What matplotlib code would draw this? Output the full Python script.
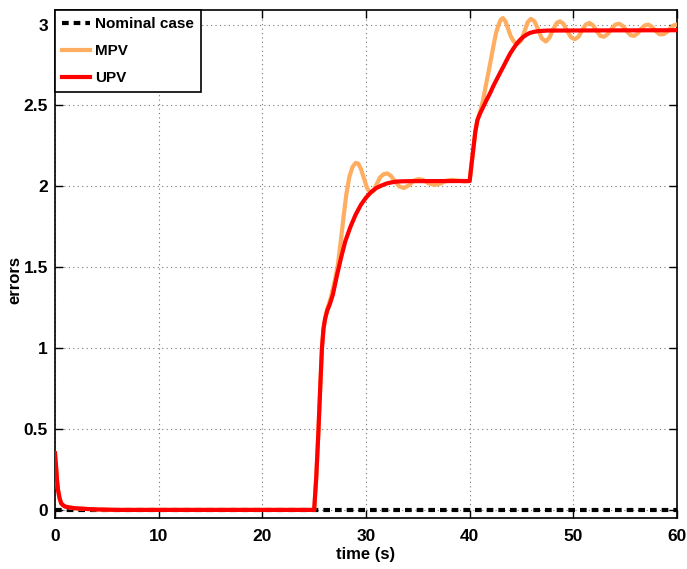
import matplotlib
matplotlib.use("Agg")
import matplotlib.pyplot as plt

plt.rcParams['font.family'] = ['Liberation Sans', 'DejaVu Sans']
plt.rcParams['font.weight'] = 'bold'

# ---- data ----
nominal_t = [0, 60]
nominal_y = [0, 0]

upv_t = [0, 0.1, 0.2, 0.3, 0.45, 0.6, 0.8, 1.0, 1.5, 2, 3, 4, 6, 25.0,
         25.2, 25.4, 25.6, 25.75, 25.9, 26.05, 26.25, 26.5, 26.8, 27.2, 27.6,
         28.0, 28.5, 29.0, 29.5, 30.0, 30.5, 31.0, 31.5, 32.0, 32.5, 33.0,
         34.0, 40.0, 40.15, 40.35, 40.55, 40.75, 41.0, 41.3, 41.64, 42.0,
         42.28, 42.6, 42.92, 43.25, 43.57, 43.9, 44.2, 44.5, 44.85, 45.2,
         45.5, 45.8, 46.2, 46.7, 47.5, 60.0]
upv_y = [0.35, 0.27, 0.18, 0.12, 0.07, 0.04, 0.028, 0.02, 0.014, 0.01, 0.006,
         0.003, 0.0, 0.0, 0.2, 0.47, 0.78, 1.0, 1.12, 1.18, 1.23, 1.27, 1.33,
         1.45, 1.56, 1.66, 1.75, 1.825, 1.885, 1.93, 1.965, 1.99, 2.005, 2.018,
         2.025, 2.03, 2.032, 2.033, 2.12, 2.23, 2.34, 2.41, 2.45, 2.49, 2.535,
         2.58, 2.62, 2.66, 2.70, 2.74, 2.78, 2.82, 2.85, 2.878, 2.905, 2.925,
         2.938, 2.948, 2.955, 2.96, 2.963, 2.965]

mpv_t = [0, 0.1, 0.2, 0.3, 0.45, 0.6, 0.8, 1.0, 1.5, 2, 3, 4, 6, 25.0,
         25.2, 25.4, 25.6, 25.75, 25.9, 26.05, 26.25, 26.6, 27.0, 27.3, 27.6,
         27.85, 28.1, 28.4, 28.7, 29.0, 29.25, 29.5, 29.8, 30.1, 30.4, 30.7,
         31.0, 31.35, 31.7, 32.05, 32.4, 32.8, 33.2, 33.65, 34.1, 34.6, 35.05,
         35.5, 36.0, 36.6, 37.2, 37.8, 38.3, 38.9, 39.5, 40.0, 40.15, 40.35,
         40.55, 40.75, 41.0, 41.3, 41.55, 41.8, 42.05, 42.3, 42.55, 42.8, 43.0,
         43.2, 43.45, 43.7, 43.95, 44.25, 44.6, 44.95, 45.3, 45.6, 45.9, 46.25,
         46.6, 46.95, 47.35, 47.7, 48.05, 48.4, 48.7, 49.05, 49.4, 49.8, 50.15,
         50.5, 50.85, 51.2, 51.55, 51.9, 52.25, 52.6, 52.95, 53.3, 53.7, 54.05,
         54.43, 54.8, 55.15, 55.5, 55.85, 56.2, 56.55, 56.9, 57.23, 57.6, 57.95,
         58.3, 58.68, 59.05, 59.4, 59.7, 60.0]
mpv_y = [0.35, 0.27, 0.18, 0.12, 0.07, 0.04, 0.028, 0.02, 0.014, 0.01, 0.006,
         0.003, 0.0, 0.0, 0.2, 0.47, 0.78, 1.0, 1.12, 1.18, 1.24, 1.31, 1.42,
         1.52, 1.68, 1.82, 1.95, 2.06, 2.12, 2.145, 2.14, 2.11, 2.05, 1.99,
         1.96, 1.97, 2.01, 2.055, 2.075, 2.08, 2.065, 2.03, 2.0, 1.99, 2.005,
         2.035, 2.045, 2.04, 2.02, 2.008, 2.018, 2.036, 2.04, 2.035, 2.03,
         2.033, 2.12, 2.23, 2.34, 2.41, 2.46, 2.535, 2.62, 2.70, 2.785, 2.87,
         2.95, 3.0, 3.03, 3.04, 3.02, 2.975, 2.93, 2.895, 2.88, 2.9, 2.96,
         3.015, 3.035, 3.02, 2.97, 2.915, 2.895, 2.92, 2.97, 3.01, 3.02, 3.005,
         2.96, 2.92, 2.91, 2.925, 2.965, 3.0, 3.01, 2.995, 2.96, 2.93, 2.925,
         2.94, 2.975, 3.0, 3.005, 2.99, 2.96, 2.935, 2.93, 2.945, 2.975, 2.995,
         3.0, 2.985, 2.96, 2.94, 2.94, 2.955, 2.98, 2.995, 3.0]

x_ticks = [0, 10, 20, 30, 40, 50, 60]
y_ticks = [0, 0.5, 1, 1.5, 2, 2.5, 3]
y_tick_labels = ['0', '0.5', '1', '1.5', '2', '2.5', '3']

fig = plt.figure(figsize=(6.87, 5.69), dpi=100)
ax = fig.add_axes([55 / 687, 51 / 569, 622 / 687, 508 / 569])

ax.plot(nominal_t, nominal_y, color='black', lw=3, linestyle=(0, (1.6, 1.2)),
        label='Nominal case', zorder=2)
ax.plot(mpv_t, mpv_y, color='#FFAD60', lw=3, label='MPV', zorder=3)
ax.plot(upv_t, upv_y, color='#FF0000', lw=3, label='UPV', zorder=4)

ax.set_xlim(0, 60)
ax.set_ylim(-0.05, 3.09)
ax.set_xticks(x_ticks)
ax.set_yticks(y_ticks)
ax.set_yticklabels(y_tick_labels)
ax.grid(True, linestyle=(0, (1, 3)), color='#777777', lw=0.8)
ax.tick_params(direction='in', top=True, right=True, length=6, width=1,
               labelsize=12.5)
ax.tick_params(axis='x', pad=8)
ax.tick_params(axis='y', pad=5)
for lab in ax.get_xticklabels() + ax.get_yticklabels():
    lab.set_fontweight('bold')
for sp in ax.spines.values():
    sp.set_linewidth(1.2)

ax.set_xlabel('time (s)', fontsize=12, fontweight='bold')
ax.xaxis.set_label_coords(0.5, -0.057)
ax.set_ylabel('errors', fontsize=12, fontweight='bold')
ax.yaxis.set_label_coords(-0.053, 0.468)

leg = ax.legend(loc='upper left', borderaxespad=0, fancybox=False,
                framealpha=1, edgecolor='black', fontsize=11,
                handlelength=1.85, labelspacing=0.85, borderpad=0.45,
                handletextpad=0.33)
leg.get_frame().set_linewidth(1.2)
for t in leg.get_texts():
    t.set_fontweight('bold')

fig.savefig('out.png', dpi=100)
